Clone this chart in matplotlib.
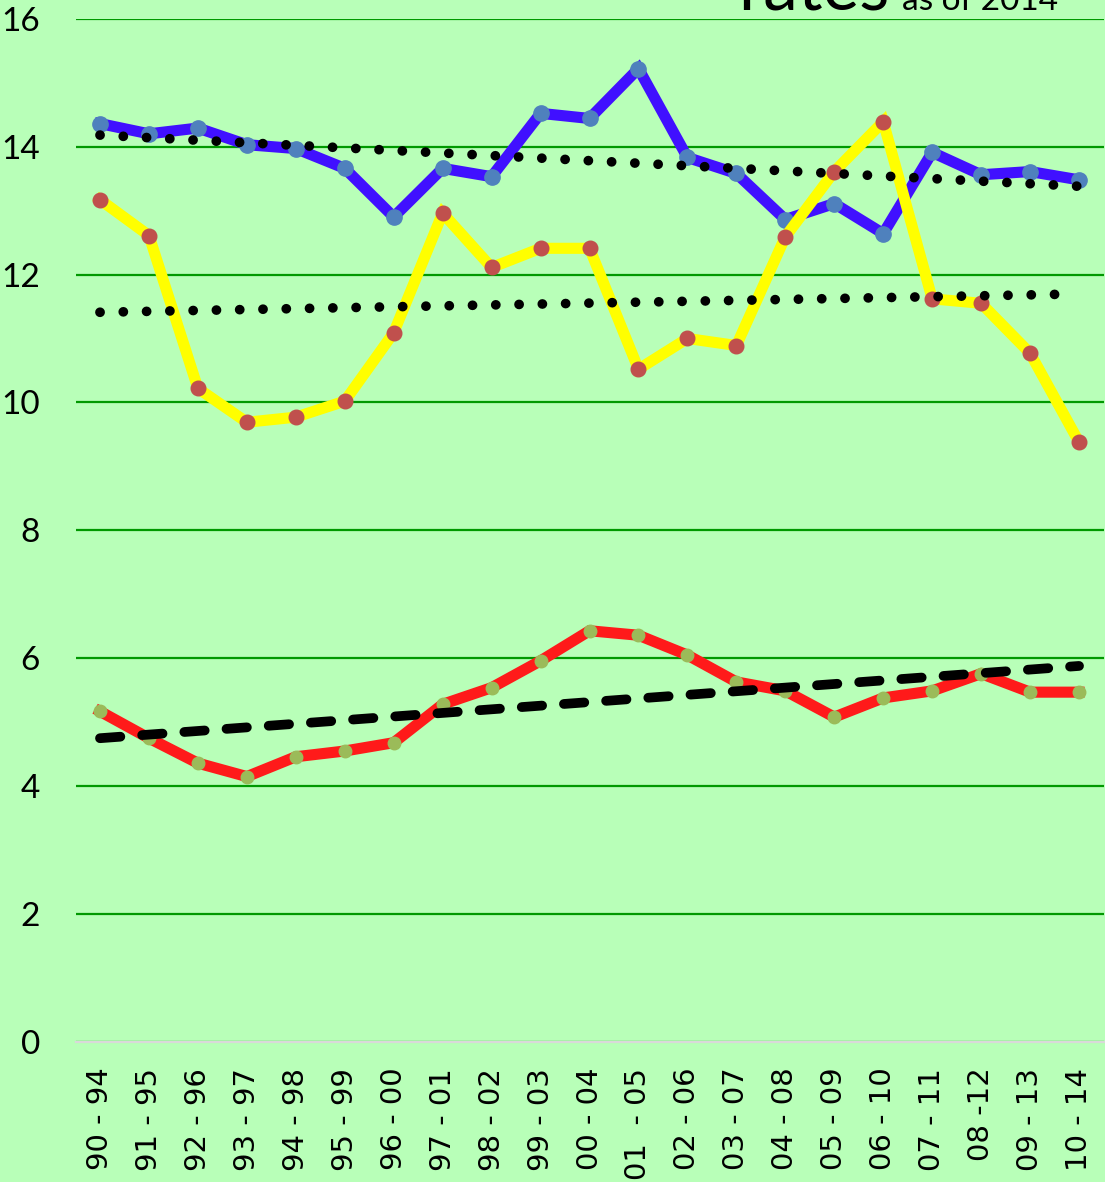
import matplotlib
matplotlib.use('Agg')
import matplotlib.pyplot as plt
from matplotlib import font_manager
import numpy as np

plt.rcParams.update({'font.family': 'DejaVu Sans',
                     'figure.facecolor': '#B8FFB8',
                     'axes.facecolor': '#B8FFB8'})

periods = ['90 - 94', '91 - 95', '92 - 96', '93 - 97', '94 - 98', '95 - 99', '96 - 00',
           '97 - 01', '98 - 02', '99 - 03', '00 - 04', '01  - 05', '02 - 06', '03 - 07',
           '04 - 08', '05 - 09', '06 - 10', '07 - 11', '08 -12', '09 - 13', '10 - 14']
blue = [14.36, 14.20, 14.29, 14.03, 13.97, 13.66, 12.90, 13.66, 13.53, 14.52, 14.44,
        15.22, 13.83, 13.58, 12.86, 13.11, 12.64, 13.91, 13.56, 13.61, 13.48]
yellow = [13.17, 12.61, 10.22, 9.69, 9.77, 10.02, 11.09, 12.96, 12.11, 12.41, 12.41,
          10.52, 11.00, 10.89, 12.59, 13.61, 14.39, 11.62, 11.55, 10.77, 9.38]
red = [5.17, 4.75, 4.36, 4.15, 4.46, 4.55, 4.68, 5.28, 5.54, 5.96, 6.43,
       6.36, 6.05, 5.63, 5.49, 5.08, 5.38, 5.49, 5.76, 5.47, 5.47]
# trend lines (start, end)
blue_trend_x = [0, 20]
blue_trend = [14.18, 13.38]
yellow_trend_x = [0, 19.56]
yellow_trend = [11.41, 11.69]
red_trend_x = [0, 20]
red_trend = [4.75, 5.88]
yticks = [0, 2, 4, 6, 8, 10, 12, 14, 16]

names = {f.name for f in font_manager.fontManager.ttflist}
if 'DejaVu Sans Condensed' in names:
    xfont, xsize = 'DejaVu Sans Condensed', 23
else:
    xfont, xsize = 'DejaVu Sans', 21

fig = plt.figure(figsize=(11.05, 11.82), dpi=100)
ax = fig.add_axes([76/1105, 140/1182, 1028/1105, 1023.3/1182])
x = np.arange(len(periods))

ax.plot(x, blue, c='#4010FF', lw=8, marker='o', ms=11, mfc='#4F81BD', mec='#4F81BD',
        solid_joinstyle='miter', zorder=3)
ax.plot(x, yellow, c='#FFFF00', lw=8, marker='o', ms=10.5, mfc='#C0504D', mec='#C0504D',
        solid_joinstyle='miter', zorder=4)
ax.plot(x, red, c='#FF1A1A', lw=8, marker='o', ms=9, mfc='#9BBB59', mec='#9BBB59',
        solid_joinstyle='miter', zorder=5)

DOT = (0, (0.01, 2.385))
ax.plot(blue_trend_x, blue_trend, c='k', lw=7, ls=DOT, dash_capstyle='round', zorder=6)
ax.plot(yellow_trend_x, yellow_trend, c='k', lw=7, ls=DOT, dash_capstyle='round', zorder=6)
ax.plot(red_trend_x, red_trend, c='k', lw=7, ls=(0, (2.1, 2.25)), dash_capstyle='round', zorder=6)

ax.set_xlim(-0.49, 20.51)
ax.set_ylim(0, 16)
ax.set_yticks(yticks)
ax.set_yticklabels([str(t) for t in yticks], fontfamily='Lato', fontsize=24)
ax.set_xticks(x)
ax.set_xticklabels(periods, rotation=90, fontsize=xsize, fontfamily=xfont)
ax.tick_params(axis='y', length=0, pad=26)
ax.tick_params(axis='x', length=0, pad=18.5)
ax.grid(axis='y', color='#009900', lw=1.6)
ax.set_axisbelow(True)
for s in ['left', 'right', 'top']:
    ax.spines[s].set_visible(False)
ax.spines['bottom'].set_color('#D9D9D9')
ax.spines['bottom'].set_linewidth(1.6)
ax.spines['bottom'].set_zorder(2)

# title, cut off at the top like the original
fig.text(738/1105, 1 - 10/1182, 'rates', fontfamily='Lato', fontsize=50, va='baseline')
fig.text(902/1105, 1 - 10/1182, 'as of 2014', fontfamily='Lato', fontsize=24, va='baseline')

fig.savefig('out.png', dpi=100, facecolor=fig.get_facecolor())
